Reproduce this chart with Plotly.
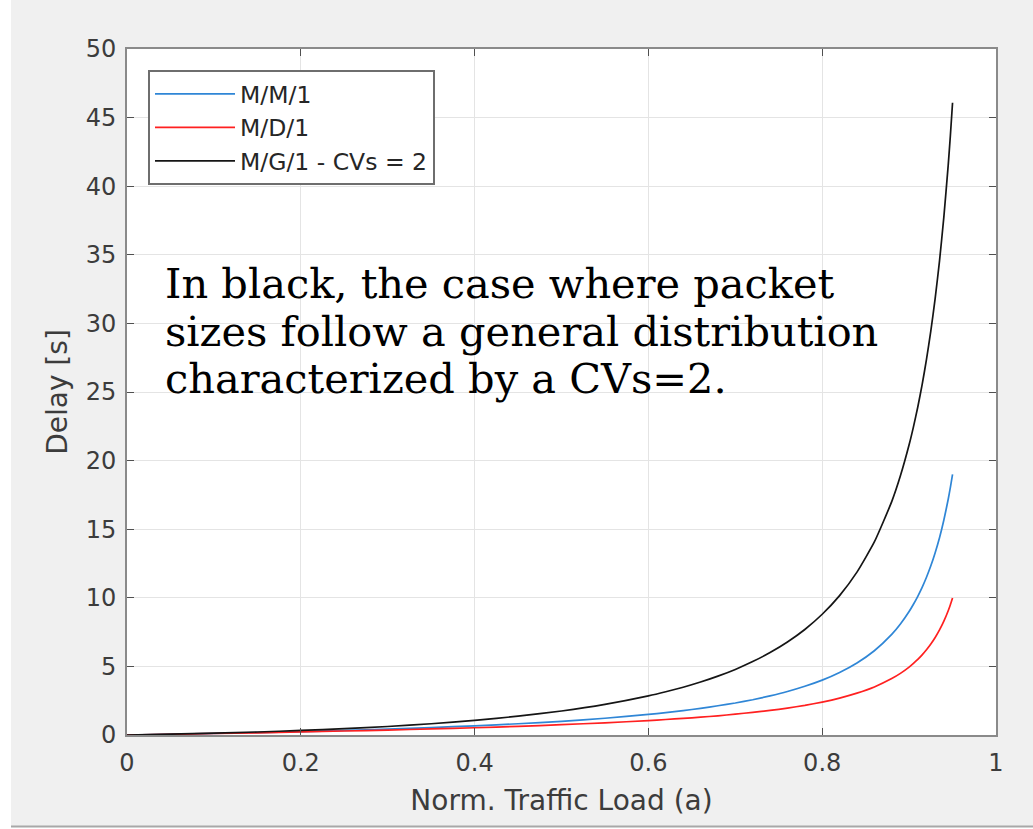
import plotly.graph_objects as go

# Values
load = [0.0, 0.05, 0.10, 0.15, 0.20, 0.25, 0.30, 0.35, 0.40, 0.45, 0.50, 0.55, 0.60,
        0.62, 0.64, 0.66, 0.68, 0.70, 0.72, 0.74, 0.76, 0.78, 0.80,
        0.82, 0.84, 0.86, 0.88,
        0.89, 0.90, 0.905, 0.91, 0.915, 0.92, 0.925, 0.93, 0.935, 0.94, 0.945, 0.9475, 0.95]
delay_mm1 = [0.0, 0.05, 0.11, 0.18, 0.25, 0.33, 0.43, 0.54, 0.67, 0.82, 1.00, 1.22, 1.50,
             1.63, 1.78, 1.94, 2.13, 2.33, 2.57, 2.85, 3.17, 3.55, 4.00,
             4.56, 5.25, 6.14, 7.33,
             8.09, 9.00, 9.53, 10.11, 10.76, 11.50, 12.33, 13.29, 14.38, 15.67, 17.18, 18.05, 19.00]
delay_md1 = [0.0, 0.05, 0.11, 0.16, 0.23, 0.29, 0.36, 0.44, 0.53, 0.63, 0.75, 0.89, 1.05,
             1.13, 1.21, 1.30, 1.40, 1.52, 1.65, 1.79, 1.96, 2.16, 2.40,
             2.69, 3.05, 3.50, 4.11,
             4.49, 4.95, 5.22, 5.51, 5.84, 6.21, 6.63, 7.11, 7.66, 8.30, 9.06, 9.50, 9.98]
delay_mg1 = [0.0, 0.06, 0.13, 0.22, 0.33, 0.46, 0.62, 0.82, 1.07, 1.37, 1.75, 2.23, 2.85,
             3.15, 3.48, 3.86, 4.29, 4.78, 5.35, 6.01, 6.78, 7.69, 8.80,
             10.16, 11.87, 14.07, 17.01,
             18.89, 21.15, 22.46, 23.91, 25.54, 27.37, 29.45, 31.82, 34.56, 37.76, 41.54, 43.70, 46.08]

series_names = ["M/M/1", "M/D/1", "M/G/1 - CVs = 2"]
series_colors = ["#2f86d6", "#ff2020", "#151515"]
x_ticks = [0, 0.2, 0.4, 0.6, 0.8, 1]
x_tick_labels = ["0", "0.2", "0.4", "0.6", "0.8", "1"]
y_ticks = list(range(0, 51, 5))

note_lines = ["In black, the case where packet",
              "sizes follow a general distribution",
              "characterized by a CVs=2."]

W, H = 1033, 829
L, R, T, B = 127, 37, 49, 94
PW, PH = W - L - R, H - T - B


def px_x(x):
    return (x - L) / PW


def px_y(y):
    return (H - B - y) / PH


fig = go.Figure()
for ys, name, col in zip([delay_mm1, delay_md1, delay_mg1], series_names, series_colors):
    fig.add_trace(go.Scatter(x=load, y=ys, mode="lines", name=name,
                             line=dict(color=col, width=1.7, shape="spline", smoothing=0.5)))

axis_common = dict(showline=True, linecolor="#8a8a8a", linewidth=2, mirror="ticks",
                   ticks="inside", ticklen=7, tickcolor="#505050", tickwidth=1,
                   showgrid=True, gridcolor="#e4e4e4", gridwidth=1, zeroline=False,
                   tickfont=dict(family="DejaVu Sans", size=24, color="#3c3c3c"))

note_font = 41.5
annotations = []
for i, line in enumerate(note_lines):
    baseline = 298 + i * 47.7
    annotations.append(dict(text=line, xref="paper", yref="paper",
                            x=px_x(163), y=px_y(baseline - 0.35 * note_font),
                            xanchor="left", yanchor="middle", align="left", showarrow=False,
                            font=dict(family="DejaVu Serif", size=note_font, color="black")))

fig.update_layout(
    width=W, height=H,
    margin=dict(l=L, r=R, t=T, b=B),
    paper_bgcolor="#f0f0f0", plot_bgcolor="white",
    xaxis=dict(range=[0, 1], tickvals=x_ticks, ticktext=x_tick_labels,
               ticklabelstandoff=5,
               title=dict(text="Norm. Traffic Load (a)", standoff=15,
                          font=dict(family="DejaVu Sans", size=28, color="#3c3c3c")),
               **axis_common),
    yaxis=dict(range=[0, 50], tickvals=y_ticks, ticklabelstandoff=4,
               title=dict(text="Delay [s]", standoff=10,
                          font=dict(family="DejaVu Sans", size=28, color="#3c3c3c")),
               **axis_common),
    legend=dict(x=px_x(148), y=px_y(70), xanchor="left", yanchor="top",
                bgcolor="white", bordercolor="#6e6e6e", borderwidth=2,
                font=dict(family="DejaVu Sans", size=23.5, color="#262626"),
                itemwidth=80, tracegroupgap=0),
    showlegend=True,
    annotations=annotations,
    shapes=[dict(type="rect", xref="paper", yref="paper", x0=px_x(-5), x1=px_x(11),
                 y0=px_y(H + 5), y1=px_y(-5), fillcolor="white", line=dict(width=0),
                 layer="above"),
            dict(type="rect", xref="paper", yref="paper", x0=px_x(-5), x1=px_x(W + 5),
                 y0=px_y(H + 5), y1=px_y(826), fillcolor="white", line=dict(width=0),
                 layer="above"),
            dict(type="line", xref="paper", yref="paper", x0=px_x(11), x1=px_x(W + 5),
                 y0=px_y(826.5), y1=px_y(826.5), line=dict(color="#a8a8a8", width=2))],
)

fig.write_html("out.html", config={"displayModeBar": False},
               post_script="document.body.style.margin='0';")
